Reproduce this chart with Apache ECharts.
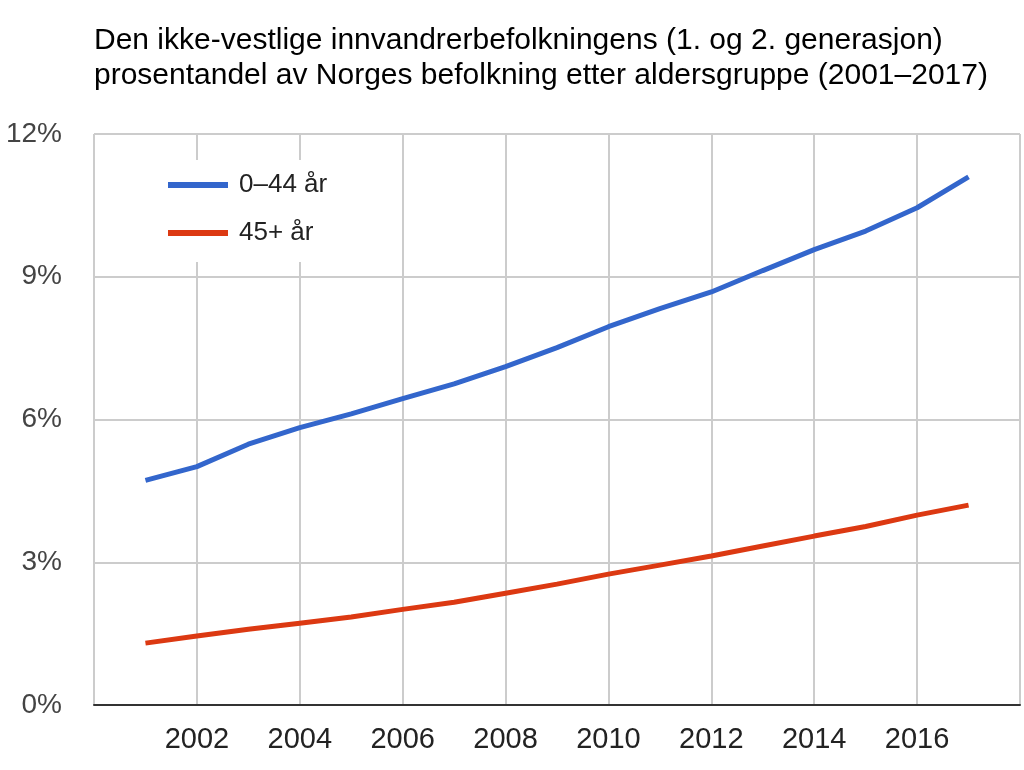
<!DOCTYPE html>
<html>
<head>
<meta charset="utf-8">
<script src="https://cdn.jsdelivr.net/npm/echarts@6/dist/echarts.min.js"></script>
<style>
html,body{margin:0;padding:0;background:#fff;}
#c{width:1024px;height:770px;}
</style>
</head>
<body>
<div id="c"></div>
<script>
const years = [2001,2002,2003,2004,2005,2006,2007,2008,2009,2010,2011,2012,2013,2014,2015,2016,2017];
const young = [4.72,5.01,5.48,5.83,6.12,6.44,6.75,7.11,7.51,7.95,8.33,8.68,9.13,9.57,9.96,10.45,11.1];
const older = [1.30,1.45,1.59,1.72,1.85,2.01,2.16,2.35,2.54,2.75,2.94,3.13,3.34,3.55,3.75,3.99,4.20];
const seriesNames = ['0–44 år','45+ år'];
const titleText = 'Den ikke-vestlige innvandrerbefolkningens (1. og 2. generasjon)\nprosentandel av Norges befolkning etter aldersgruppe (2001–2017)';

const chart = echarts.init(document.getElementById('c'));
const font = '"Liberation Sans", Arial, sans-serif';
chart.setOption({
  animation:false,
  backgroundColor:'#fff',
  title:{
    text:titleText,
    left:89, top:18,
    textStyle:{fontFamily:font,fontSize:30,fontWeight:'normal',color:'#000',lineHeight:35}
  },
  legend:{
    orient:'vertical',
    left:160, top:160,
    backgroundColor:'#fff',
    padding:[12,14,16,8],
    itemWidth:60, itemHeight:6, itemGap:22,
    icon:'rect',
    textStyle:{fontFamily:font,fontSize:26,color:'#222',lineHeight:26,padding:[0,0,0,6]},
    data:seriesNames
  },
  grid:{left:94,right:4,top:134,bottom:65,containLabel:false},
  xAxis:{
    type:'value', min:2000, max:2018, interval:2,
    axisLine:{show:true,lineStyle:{color:'#333',width:2}},
    axisTick:{show:false},
    axisLabel:{
      fontFamily:font,fontSize:29,color:'#222',margin:20,
      formatter:v => (v===2000||v===2018)?'':String(v)
    },
    splitLine:{show:true,lineStyle:{color:'#ccc',width:2}}
  },
  yAxis:{
    type:'value', min:0, max:12, interval:3,
    axisLine:{show:false},
    axisTick:{show:false},
    axisLabel:{fontFamily:font,fontSize:28,color:'#444',margin:32,formatter:'{value}%'},
    splitLine:{show:true,lineStyle:{color:'#ccc',width:2}}
  },
  series:[
    {name:seriesNames[0],type:'line',showSymbol:false,symbol:'none',
     data:years.map((y,i)=>[y,young[i]]),
     lineStyle:{color:'#3366cc',width:5},itemStyle:{color:'#3366cc'},z:3},
    {name:seriesNames[1],type:'line',showSymbol:false,symbol:'none',
     data:years.map((y,i)=>[y,older[i]]),
     lineStyle:{color:'#dc3912',width:5},itemStyle:{color:'#dc3912'},z:3}
  ]
});
</script>
</body>
</html>
